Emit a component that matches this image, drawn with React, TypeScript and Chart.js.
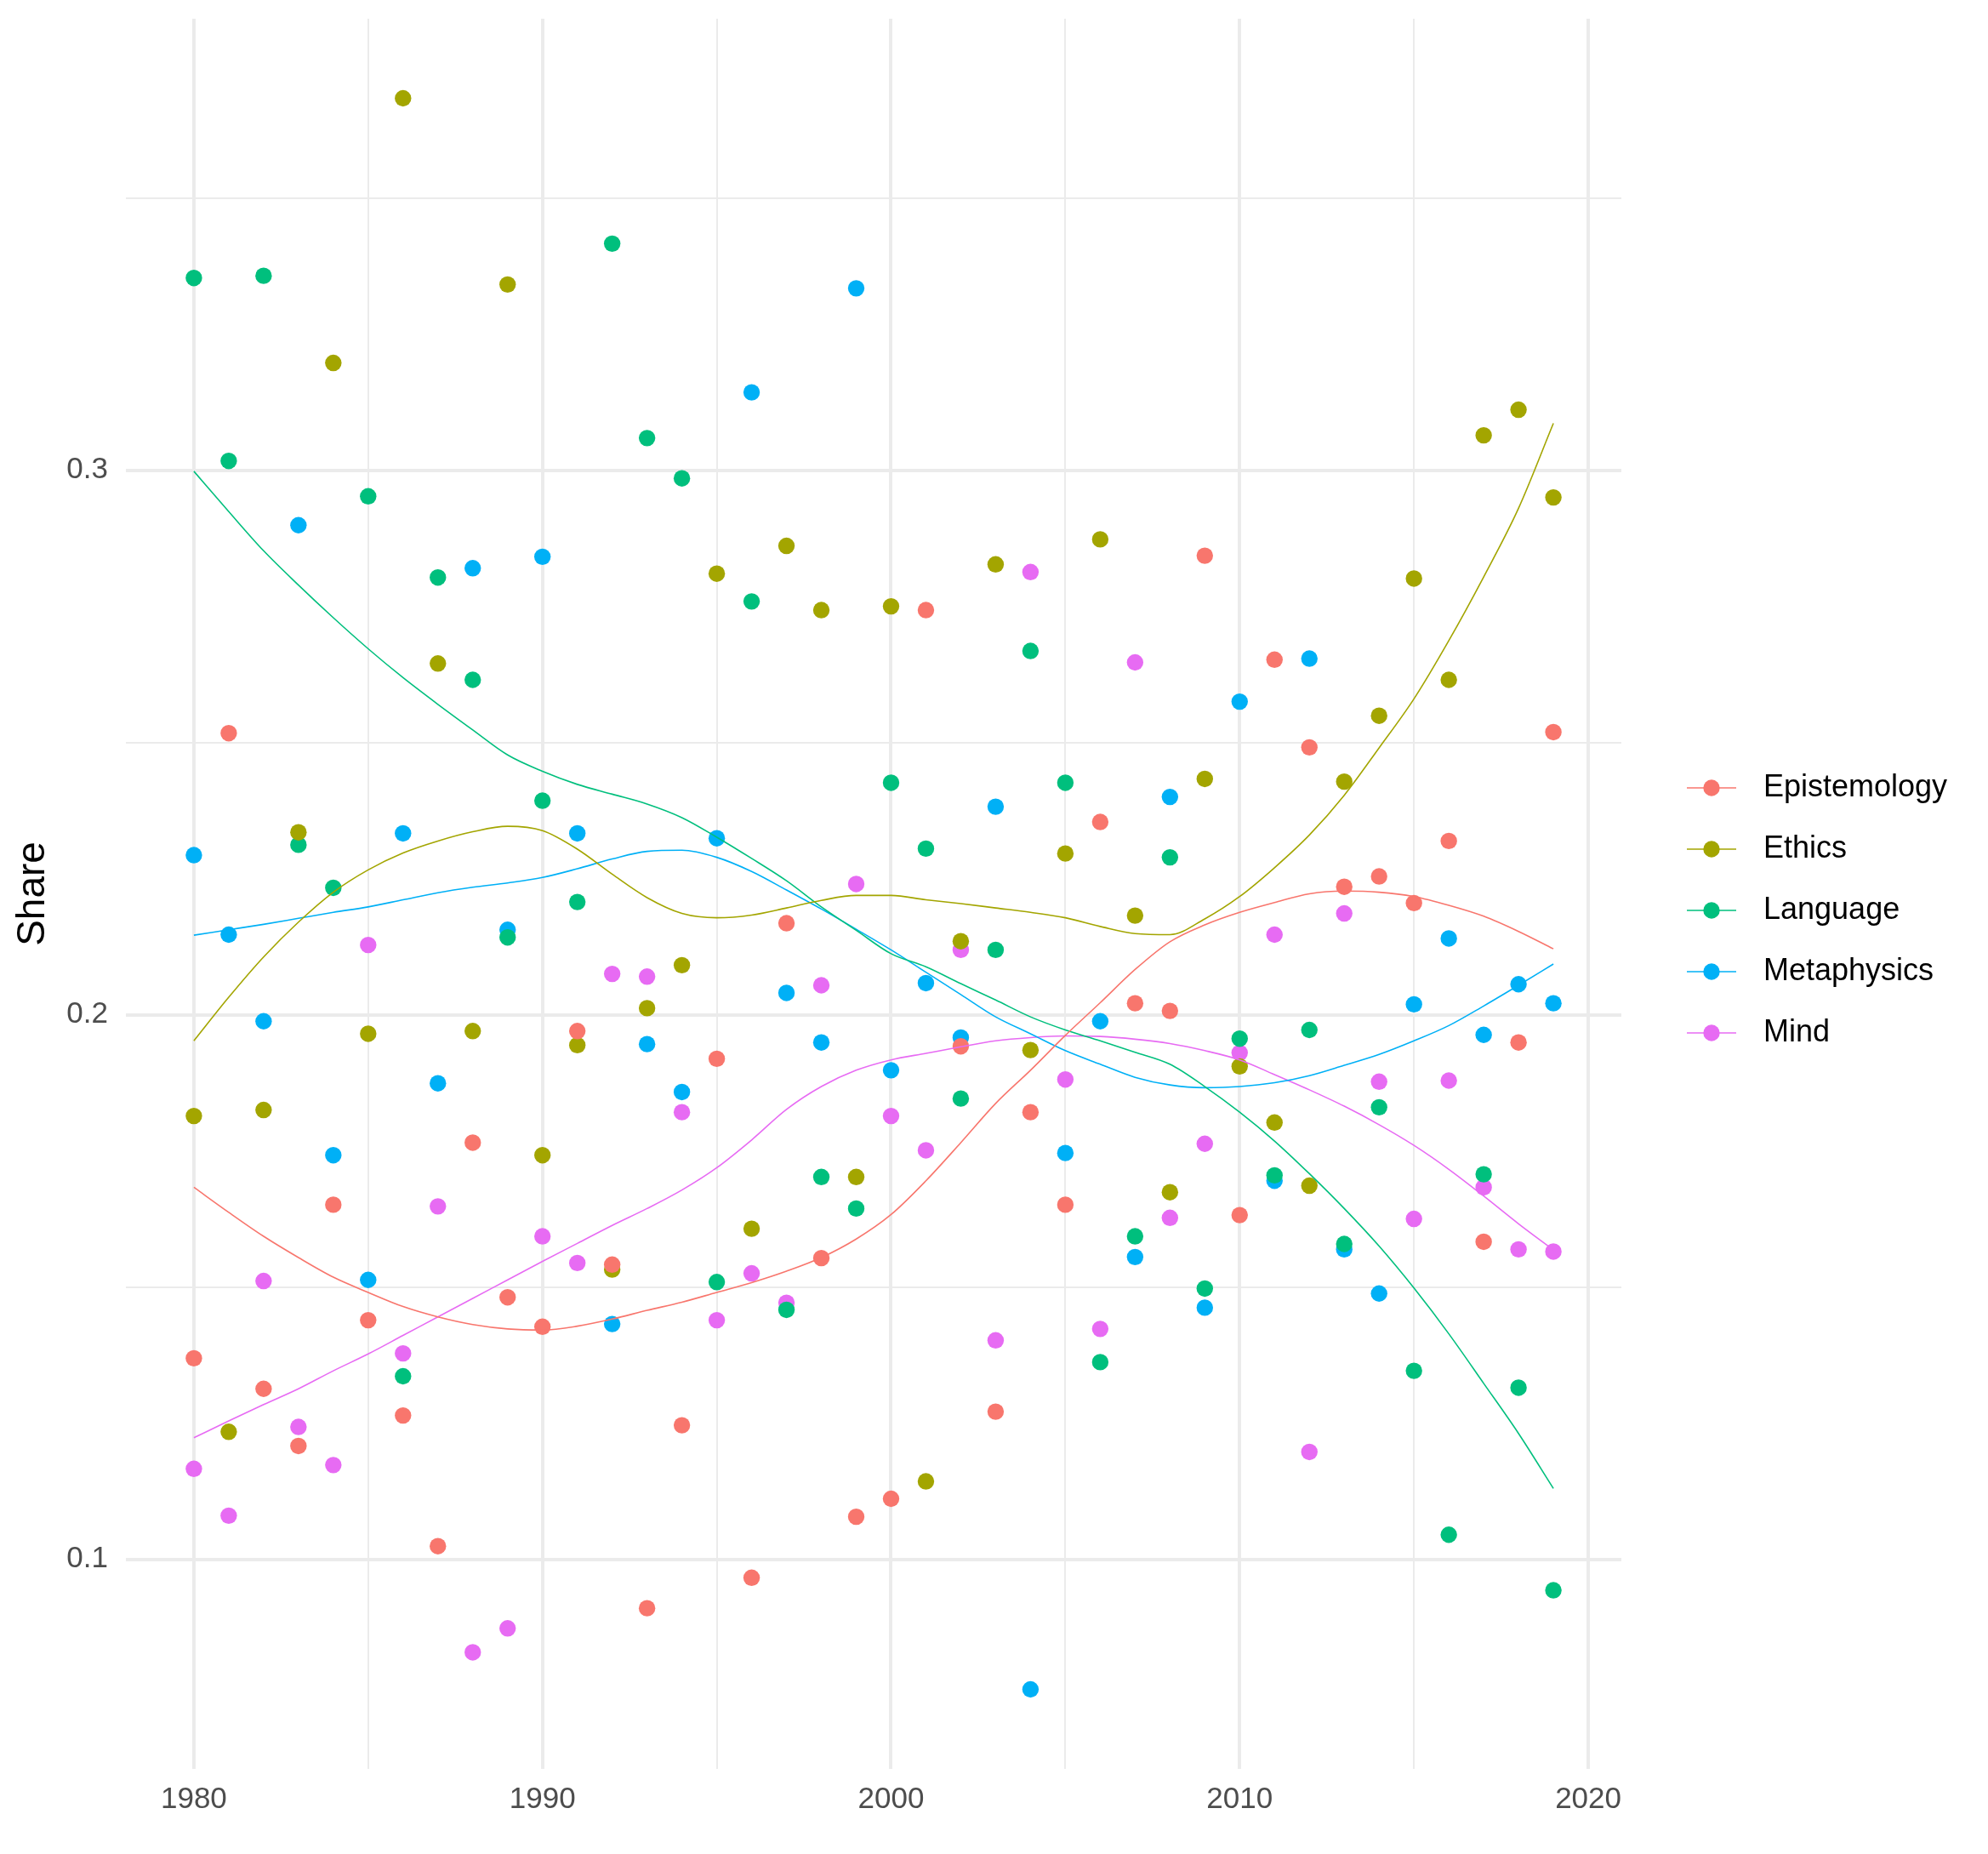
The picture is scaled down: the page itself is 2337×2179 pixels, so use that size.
import React, { useEffect, useRef } from 'react';
import { Chart, registerables, ChartConfiguration } from 'chart.js';

Chart.register(...registerables);

const years = [
  1980, 1981, 1982, 1983, 1984, 1985, 1986, 1987, 1988, 1989,
  1990, 1991, 1992, 1993, 1994, 1995, 1996, 1997, 1998, 1999,
  2000, 2001, 2002, 2003, 2004, 2005, 2006, 2007, 2008, 2009,
  2010, 2011, 2012, 2013, 2014, 2015, 2016, 2017, 2018, 2019,
];

const topics = ['Epistemology', 'Ethics', 'Language', 'Metaphysics', 'Mind'];
const topicColors = ['#F8766D', '#A3A500', '#00BF7D', '#00B0F6', '#E76BF3'];

// yearly shares (points)
const epistemology = [
  0.1369, 0.2517, 0.1313, 0.1208, 0.1651, 0.1439, 0.1264, 0.1024, 0.1765, 0.1481,
  0.1427, 0.1970, 0.1541, 0.0910, 0.1246, 0.1919, 0.0966, 0.2168, 0.1553, 0.1078,
  0.1111, 0.2743, 0.1942, 0.1271, 0.1821, 0.1651, 0.2354, 0.2021, 0.2007, 0.2843,
  0.1632, 0.2652, 0.2491, 0.2235, 0.2254, 0.2205, 0.2319, 0.1583, 0.1949, 0.2519,
];
const ethics = [
  0.1814, 0.1234, 0.1825, 0.2335, 0.3197, 0.1965, 0.3683, 0.2645, 0.1970, 0.3341,
  0.1742, 0.1944, 0.1532, 0.2012, 0.2091, 0.2810, 0.1607, 0.2861, 0.2743, 0.1702,
  0.2750, 0.1143, 0.2135, 0.2827, 0.1935, 0.2296, 0.2873, 0.2182, 0.1674, 0.2433,
  0.1905, 0.1802, 0.1686, 0.2428, 0.2549, 0.2801, 0.2615, 0.3064, 0.3111, 0.2950,
];
const language = [
  0.3353, 0.3017, 0.3357, 0.2312, 0.2233, 0.2952, 0.1336, 0.2803, 0.2615, 0.2142,
  0.2393, 0.2207, 0.3416, 0.3059, 0.2985, 0.1509, 0.2759, 0.1458, 0.1702, 0.1644,
  0.2426, 0.2305, 0.1846, 0.2119, 0.2668, 0.2426, 0.1362, 0.1593, 0.2289, 0.1497,
  0.1956, 0.1705, 0.1972, 0.1579, 0.1830, 0.1346, 0.1045, 0.1707, 0.1315, 0.0943,
];
const metaphysics = [
  0.2293, 0.2147, 0.1988, 0.2899, 0.1742, 0.1513, 0.2333, 0.1874, 0.2820, 0.2156,
  0.2841, 0.2333, 0.1432, 0.1946, 0.1858, 0.2324, 0.3143, 0.2040, 0.1949, 0.3334,
  0.1898, 0.2058, 0.1958, 0.2382, 0.0761, 0.1746, 0.1988, 0.1555, 0.2400, 0.1462,
  0.2575, 0.1695, 0.2654, 0.1569, 0.1488, 0.2019, 0.2140, 0.1963, 0.2056, 0.2021,
];
const mind = [
  0.1166, 0.1080, 0.1511, 0.1243, 0.1173, 0.2128, 0.1378, 0.1648, 0.0829, 0.0873,
  0.1593, 0.1544, 0.2075, 0.2070, 0.1821, 0.1439, 0.1525, 0.1471, 0.2054, 0.2240,
  0.1814, 0.1751, 0.2119, 0.1402, 0.2813, 0.1881, 0.1423, 0.2647, 0.1627, 0.1763,
  0.1930, 0.2147, 0.1197, 0.2186, 0.1877, 0.1625, 0.1879, 0.1683, 0.1569, 0.1565,
];

// smoothed trend at each year
const epistemologySmooth = [
  0.1683, 0.1637, 0.1593, 0.1554, 0.1518, 0.1490, 0.1464, 0.1445, 0.1431, 0.1423,
  0.1421, 0.1428, 0.1441, 0.1457, 0.1472, 0.1490, 0.1508, 0.1529, 0.1554, 0.1588,
  0.1633, 0.1695, 0.1765, 0.1837, 0.1898, 0.1962, 0.2022, 0.2083, 0.2134, 0.2165,
  0.2188, 0.2206, 0.2222, 0.2227, 0.2225, 0.2217, 0.2201, 0.2181, 0.2153, 0.2121,
];
const ethicsSmooth = [
  0.1952, 0.2032, 0.2106, 0.2170, 0.2225, 0.2266, 0.2297, 0.2319, 0.2336, 0.2346,
  0.2338, 0.2304, 0.2258, 0.2215, 0.2186, 0.2178, 0.2183, 0.2196, 0.2210, 0.2219,
  0.2219, 0.2211, 0.2204, 0.2196, 0.2188, 0.2178, 0.2162, 0.2149, 0.2147, 0.2176,
  0.2217, 0.2270, 0.2330, 0.2403, 0.2490, 0.2580, 0.2687, 0.2804, 0.2930, 0.3086,
];
const languageSmooth = [
  0.2998, 0.2924, 0.2852, 0.2789, 0.2729, 0.2672, 0.2619, 0.2570, 0.2523, 0.2477,
  0.2447, 0.2423, 0.2405, 0.2387, 0.2362, 0.2326, 0.2287, 0.2246, 0.2198, 0.2155,
  0.2112, 0.2088, 0.2057, 0.2027, 0.1996, 0.1972, 0.1952, 0.1931, 0.1909, 0.1868,
  0.1821, 0.1768, 0.1708, 0.1644, 0.1575, 0.1498, 0.1414, 0.1323, 0.1231, 0.1130,
];
const metaphysicsSmooth = [
  0.2146, 0.2156, 0.2166, 0.2177, 0.2188, 0.2198, 0.2211, 0.2224, 0.2234, 0.2242,
  0.2252, 0.2268, 0.2286, 0.2300, 0.2302, 0.2289, 0.2263, 0.2229, 0.2194, 0.2157,
  0.2119, 0.2078, 0.2037, 0.1996, 0.1965, 0.1934, 0.1909, 0.1885, 0.1871, 0.1866,
  0.1868, 0.1875, 0.1888, 0.1907, 0.1927, 0.1952, 0.1980, 0.2016, 0.2054, 0.2093,
];
const mindSmooth = [
  0.1223, 0.1254, 0.1284, 0.1313, 0.1346, 0.1377, 0.1411, 0.1445, 0.1479, 0.1513,
  0.1547, 0.1580, 0.1613, 0.1644, 0.1678, 0.1719, 0.1770, 0.1826, 0.1868, 0.1898,
  0.1917, 0.1929, 0.1941, 0.1952, 0.1958, 0.1961, 0.1960, 0.1955, 0.1947, 0.1934,
  0.1917, 0.1890, 0.1862, 0.1832, 0.1798, 0.1760, 0.1716, 0.1667, 0.1616, 0.1568,
];

const xTicks = [1980, 1985, 1990, 1995, 2000, 2005, 2010, 2015, 2020];
const xTickLabels = ['1980', '', '1990', '', '2000', '', '2010', '', '2020'];
const yTicks = [0.1, 0.15, 0.2, 0.25, 0.3, 0.35];
const yTickLabels = ['0.1', '', '0.2', '', '0.3', ''];

const pointSeries = [epistemology, ethics, language, metaphysics, mind];
const smoothSeries = [epistemologySmooth, ethicsSmooth, languageSmooth, metaphysicsSmooth, mindSmooth];

const W = 2337;
const H = 2179;
const FONT = '"Liberation Sans", Arial, Helvetica, sans-serif';

// ggplot style 5% expansion
const allVals = pointSeries.flat();
const yLo = Math.min(...allVals);
const yHi = Math.max(...allVals);
const yMin = yLo - (yHi - yLo) * 0.05;
const yMax = yHi + (yHi - yLo) * 0.05;
const xSpan = years[years.length - 1] - years[0];
const xMin = years[0] - xSpan * 0.05;
const xMax = years[years.length - 1] + xSpan * 0.05;

const makeGlyph = (color: string) => {
  const c = document.createElement('canvas');
  c.width = 86;
  c.height = 30;
  const g = c.getContext('2d')!;
  g.strokeStyle = color;
  g.lineWidth = 1.6;
  g.beginPath();
  g.moveTo(14, 15);
  g.lineTo(72, 15);
  g.stroke();
  g.fillStyle = color;
  g.beginPath();
  g.arc(43, 15, 9.7, 0, Math.PI * 2);
  g.fill();
  return c;
};

const isMajor = (v: number, step: number) => Math.abs(v / step - Math.round(v / step)) < 1e-6;

// legend: fixed width so the panel ends where the reference's does, then nudge the items
const legendPlacement = {
  id: 'legendPlacement',
  afterInit(chart: any) {
    const lg = chart.legend;
    if (!lg) return;
    const fit = lg.fit.bind(lg);
    lg.fit = () => {
      fit();
      lg.width = 431;
    };
  },
  afterLayout(chart: any) {
    const lg = chart.legend;
    if (!lg) return;
    lg.left += 27;
    lg.right += 27;
    lg.top -= 9;
    lg.bottom -= 9;
  },
};

const ShareChart: React.FC = () => {
  const canvasRef = useRef<HTMLCanvasElement>(null);
  const chartRef = useRef<Chart | null>(null);

  useEffect(() => {
    if (!canvasRef.current) return;
    if (chartRef.current) chartRef.current.destroy();

    const glyphs = topicColors.map(makeGlyph);

    const pointSets = topics.map((t, i) => ({
      type: 'scatter' as const,
      label: t,
      data: years.map((yr, j) => ({ x: yr, y: pointSeries[i][j] })),
      backgroundColor: topicColors[i],
      borderWidth: 0,
      pointRadius: 9.7,
      pointHoverRadius: 9.7,
      order: 1,
    }));

    const lineSets = topics.map((t, i) => ({
      type: 'line' as const,
      label: t + ' trend',
      data: years.map((yr, j) => ({ x: yr, y: smoothSeries[i][j] })),
      borderColor: topicColors[i],
      borderWidth: 1.6,
      pointRadius: 0,
      cubicInterpolationMode: 'monotone' as const,
      fill: false,
      order: 0,
    }));

    const config: ChartConfiguration = {
      type: 'scatter',
      data: { datasets: [...pointSets, ...lineSets] as any },
      options: {
        responsive: false,
        devicePixelRatio: 1,
        animation: false,
        events: [],
        layout: { padding: { top: 22, right: 0, bottom: 43, left: 0 } },
        plugins: {
          tooltip: { enabled: false },
          legend: {
            display: true,
            position: 'right',
            labels: {
              usePointStyle: true,
              pointStyleWidth: 86,
              padding: 36,
              color: '#000000',
              font: { size: 36, family: FONT },
              generateLabels: () =>
                topics.map((t, i) => ({
                  text: t,
                  pointStyle: glyphs[i] as any,
                  fillStyle: topicColors[i],
                  strokeStyle: topicColors[i],
                  lineWidth: 0,
                  hidden: false,
                  datasetIndex: i,
                  fontColor: '#000000',
                })),
            },
          },
        },
        scales: {
          x: {
            type: 'linear',
            min: xMin,
            max: xMax,
            afterBuildTicks: (scale: any) => {
              scale.ticks = xTicks.map((v) => ({ value: v }));
            },
            afterFit: (scale: any) => {
              scale.height = 57;
              scale.paddingLeft = 0;
              scale.paddingRight = 0;
            },
            ticks: {
              padding: 15,
              color: '#4D4D4D',
              font: { size: 35, family: FONT },
              maxRotation: 0,
              autoSkip: false,
              callback: (_v: any, i: number) => xTickLabels[i],
            },
            grid: {
              color: '#EBEBEB',
              drawTicks: false,
              lineWidth: (ctx: any) => (isMajor(ctx.tick?.value ?? 0, 10) ? 4 : 2),
            },
            border: { display: false },
          },
          y: {
            type: 'linear',
            min: yMin,
            max: yMax,
            afterBuildTicks: (scale: any) => {
              scale.ticks = yTicks.map((v) => ({ value: v }));
            },
            afterFit: (scale: any) => {
              scale.width = 148;
              scale.paddingTop = 0;
              scale.paddingBottom = 0;
            },
            title: {
              display: true,
              text: 'Share',
              color: '#000000',
              font: { size: 46, family: FONT },
              padding: { top: 12, bottom: 0 },
            },
            ticks: {
              padding: 21,
              color: '#4D4D4D',
              font: { size: 35, family: FONT },
              autoSkip: false,
              callback: (_v: any, i: number) => yTickLabels[i],
            },
            grid: {
              color: '#EBEBEB',
              drawTicks: false,
              lineWidth: (ctx: any) => (isMajor(ctx.tick?.value ?? 0, 0.1) ? 4 : 2),
            },
            border: { display: false },
          },
        },
      },
      plugins: [legendPlacement],
    };

    chartRef.current = new Chart(canvasRef.current, config);

    return () => {
      if (chartRef.current) {
        chartRef.current.destroy();
        chartRef.current = null;
      }
    };
  }, []);

  return (
    <div style={{ position: 'absolute', left: 0, top: 0, width: W, height: H, background: '#ffffff' }}>
      <canvas ref={canvasRef} width={W} height={H} style={{ display: 'block' }} />
    </div>
  );
};

export default function App() {
  return <ShareChart />;
}
